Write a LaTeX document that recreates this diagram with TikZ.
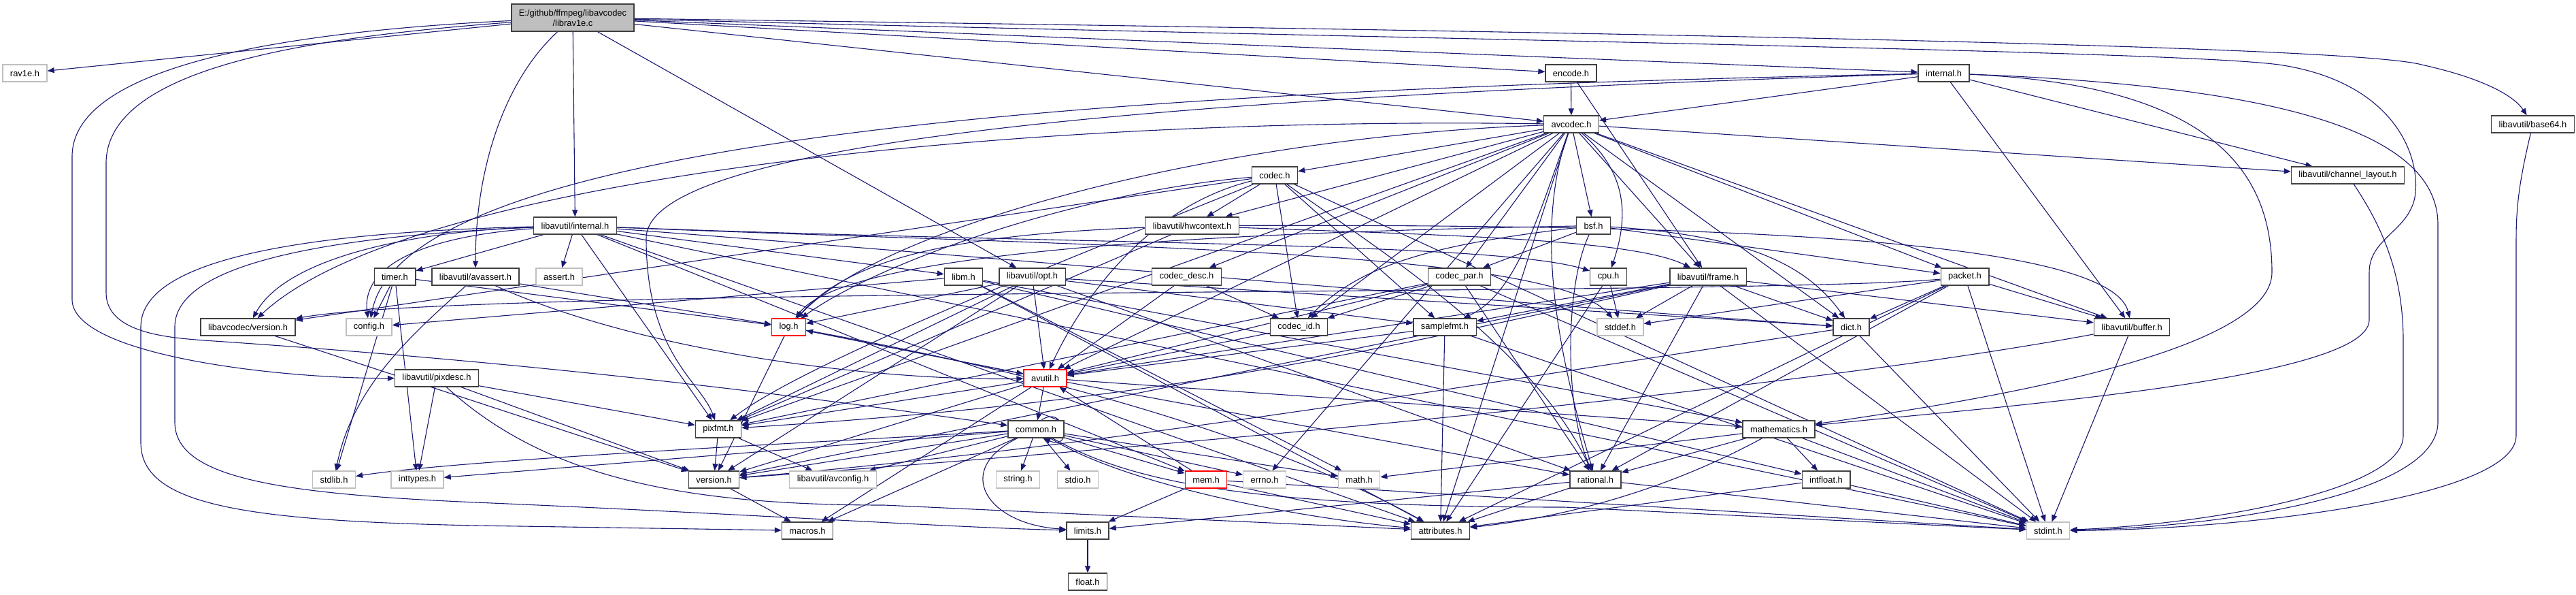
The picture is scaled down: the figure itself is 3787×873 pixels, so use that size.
\documentclass[tikz,border=0pt]{standalone}
\usepackage{fontspec}
\setmainfont{Liberation Sans}
\usetikzlibrary{arrows.meta}
\pgfdeclarelayer{edgelayer}
\pgfdeclarelayer{nodelayer}
\pgfsetlayers{edgelayer,nodelayer,main}
\definecolor{edgeblue}{HTML}{191970}
\tikzstyle{edge}=[draw=edgeblue, line width=1.1pt, -{Triangle[length=10pt,width=8pt]}]
\tikzstyle{file}=[rectangle, fill=white, draw=black!75, line width=1.3pt, minimum height=25pt, inner xsep=11pt, font=\fontsize{12.9}{15}\selectfont]
\tikzstyle{extfile}=[file, draw=black!25]
\tikzstyle{cutfile}=[file, draw=red]
\tikzstyle{rootfile}=[file, fill=black!25, minimum height=40pt, align=center]
\begin{document}
\begin{tikzpicture}[x=1pt, y=-1pt]
	\useasboundingbox (0,0) rectangle (3787,873);
	\begin{pgfonlayer}{nodelayer}
		\node [style=rootfile] (1) at (842, 26) {E:/github/ffmpeg/libavcodec\\/librav1e.c};
		\node [style=extfile] (2) at (36.5, 107.5) {rav1e.h};
		\node [style=file] (3) at (2309.5, 107.5) {encode.h};
		\node [style=file] (4) at (2857.5, 107.5) {internal.h};
		\node [style=file] (5) at (2310, 182.5) {avcodec.h};
		\node [style=file] (6) at (3723.5, 182.5) {libavutil/base64.h};
		\node [style=file] (7) at (1874, 257.5) {codec.h};
		\node [style=file] (8) at (3451.5, 257.5) {libavutil/channel\_layout.h};
		\node [style=file] (9) at (845.5, 331.5) {libavutil/internal.h};
		\node [style=file] (10) at (1752.5, 331.5) {libavutil/hwcontext.h};
		\node [style=file] (11) at (2342.5, 331.5) {bsf.h};
		\node [style=file] (12) at (580.5, 406.5) {timer.h};
		\node [style=file] (13) at (699, 406.5) {libavutil/avassert.h};
		\node [style=extfile] (14) at (822, 406.5) {assert.h};
		\node [style=file] (15) at (1416.5, 406.5) {libm.h};
		\node [style=file] (16) at (1517.5, 406.5) {libavutil/opt.h};
		\node [style=file] (17) at (1744.5, 406.5) {codec\_desc.h};
		\node [style=file] (18) at (2145.5, 406.5) {codec\_par.h};
		\node [style=file] (19) at (2364.5, 406.5) {cpu.h};
		\node [style=file] (20) at (2511, 406.5) {libavutil/frame.h};
		\node [style=file] (21) at (2888.5, 406.5) {packet.h};
		\node [style=file] (22) at (364.5, 480.5) {libavcodec/version.h};
		\node [style=extfile] (23) at (542.5, 480.5) {config.h};
		\node [style=cutfile] (24) at (1159.5, 480.5) {log.h};
		\node [style=file] (25) at (1909.5, 480.5) {codec\_id.h};
		\node [style=file] (26) at (2124, 480.5) {samplefmt.h};
		\node [style=extfile] (27) at (2382, 480.5) {stddef.h};
		\node [style=file] (28) at (2721.5, 480.5) {dict.h};
		\node [style=file] (29) at (3134, 480.5) {libavutil/buffer.h};
		\node [style=file] (30) at (642, 555.5) {libavutil/pixdesc.h};
		\node [style=cutfile] (31) at (1536.5, 555.5) {avutil.h};
		\node [style=file] (32) at (1056, 630.5) {pixfmt.h};
		\node [style=file] (33) at (1523, 630.5) {common.h};
		\node [style=file] (34) at (2615, 630.5) {mathematics.h};
		\node [style=extfile] (35) at (491, 704.5) {stdlib.h};
		\node [style=extfile] (36) at (613.5, 704.5) {inttypes.h};
		\node [style=file] (37) at (1049.5, 704.5) {version.h};
		\node [style=extfile] (38) at (1224.5, 704.5) {libavutil/avconfig.h};
		\node [style=extfile] (39) at (1496.5, 704.5) {string.h};
		\node [style=extfile] (40) at (1584.5, 704.5) {stdio.h};
		\node [style=cutfile] (41) at (1773, 704.5) {mem.h};
		\node [style=extfile] (42) at (1859, 704.5) {errno.h};
		\node [style=extfile] (43) at (1998, 704.5) {math.h};
		\node [style=file] (44) at (2345.5, 704.5) {rational.h};
		\node [style=file] (45) at (2684.5, 704.5) {intfloat.h};
		\node [style=file] (46) at (1187, 779.5) {macros.h};
		\node [style=file] (47) at (1599, 779.5) {limits.h};
		\node [style=file] (48) at (2117.5, 779.5) {attributes.h};
		\node [style=extfile] (49) at (3011, 779.5) {stdint.h};
		\node [style=file] (50) at (1599, 854.5) {float.h};
	\end{pgfonlayer}
	\begin{pgfonlayer}{edgelayer}
		% librav1e.c
		\draw [style=edge] (1) to (2);
		\draw [style=edge] (1) to (9);
		\draw [style=edge] (1) .. controls (740,120) and (699,250) .. (13);
		\draw [style=edge] (1) to (16);
		\draw [style=edge] (1) to (3);
		\draw [style=edge] (1) to (5);
		\draw [style=edge] (1) to (4);
		\draw [style=edge] (1) .. controls (2200,45) and (3450,65) .. (3560,95) .. controls (3650,115) and (3695,140) .. (6);
		\draw [style=edge] (1) .. controls (2200,60) and (3200,75) .. (3350,95) .. controls (3520,120) and (3560,230) .. (3550,290) .. controls (3540,340) and (3483,350) .. (3483,400) -- (3483,470) .. controls (3483,560) and (2900,600) .. (34);
		\draw [style=edge] (1) .. controls (450,45) and (106,90) .. (106,230) -- (106,440) .. controls (106,520) and (400,556) .. (30);
		\draw [style=edge] (1) .. controls (450,55) and (156,100) .. (156,240) -- (156,430) .. controls (156,490) and (250,496) .. (300,500) .. controls (900,540) and (1300,600) .. (33);
		% encode.h, internal.h
		\draw [style=edge] (3) to (5);
		\draw [style=edge] (3) to (20);
		\draw [style=edge] (4) to (5);
		\draw [style=edge] (4) to (8);
		\draw [style=edge] (4) to (29);
		\draw [style=edge] (4) .. controls (3250,125) and (3340,250) .. (3340,400) .. controls (3340,520) and (2900,590) .. (34);
		\draw [style=edge] (4) .. controls (3300,125) and (3584,180) .. (3584,330) -- (3584,620) .. controls (3584,730) and (3250,775) .. (49);
		\draw [style=edge] (4) .. controls (1800,130) and (600,180) .. (23);
		\draw [style=edge] (4) .. controls (1800,140) and (950,200) .. (950,350) .. controls (950,520) and (1030,560) .. (32);
		\draw [style=edge] (6) .. controls (3705,260) and (3699,300) .. (3699,350) -- (3699,640) .. controls (3699,730) and (3300,778) .. (49);
		\draw [style=edge] (8) .. controls (3500,330) and (3533,400) .. (3533,500) -- (3533,640) .. controls (3533,720) and (3250,770) .. (49);
		% avcodec.h
		\draw [style=edge] (5) to (42);
		\draw [style=edge] (5) .. controls (2260,320) and (2230,430) .. (26);
		\draw [style=edge] (5) to (48);
		\draw [style=edge] (5) to (31);
		\draw [style=edge] (5) to (29);
		\draw [style=edge] (5) .. controls (2400,260) and (2390,330) .. (19);
		\draw [style=edge] (5) to (8);
		\draw [style=edge] (5) to (28);
		\draw [style=edge] (5) to (20);
		\draw [style=edge] (5) to (10);
		\draw [style=edge] (5) .. controls (1800,200) and (1300,330) .. (24);
		\draw [style=edge] (5) to (32);
		\draw [style=edge] (5) .. controls (2250,350) and (2300,550) .. (44);
		\draw [style=edge] (5) to (11);
		\draw [style=edge] (5) to (7);
		\draw [style=edge] (5) to (17);
		\draw [style=edge] (5) to (18);
		\draw [style=edge] (5) to (25);
		\draw [style=edge] (5) to (21);
		\draw [style=edge] (5) .. controls (1500,170) and (600,260) .. (22);
		% codec.h
		\draw [style=edge] (7) to (49);
		\draw [style=edge] (7) .. controls (1700,300) and (1600,420) .. (31);
		\draw [style=edge] (7) to (10);
		\draw [style=edge] (7) .. controls (1600,280) and (1300,380) .. (24);
		\draw [style=edge] (7) .. controls (1700,330) and (1200,520) .. (32);
		\draw [style=edge] (7) .. controls (2000,350) and (2250,500) .. (44);
		\draw [style=edge] (7) to (26);
		\draw [style=edge] (7) to (25);
		\draw [style=edge] (7) to (22);
		% libavutil/hwcontext.h, bsf.h
		\draw [style=edge] (10) .. controls (2400,330) and (3100,340) .. (29);
		\draw [style=edge] (10) .. controls (2100,345) and (2400,350) .. (20);
		\draw [style=edge] (10) .. controls (1400,345) and (1250,380) .. (24);
		\draw [style=edge] (10) to (32);
		\draw [style=edge] (11) .. controls (2550,345) and (2650,380) .. (28);
		\draw [style=edge] (11) .. controls (1900,340) and (1250,360) .. (24);
		\draw [style=edge] (11) .. controls (2300,420) and (2300,600) .. (44);
		\draw [style=edge] (11) .. controls (2100,360) and (2000,390) .. (25);
		\draw [style=edge] (11) to (18);
		\draw [style=edge] (11) to (21);
		% libavutil/internal.h
		\draw [style=edge] (9) to (14);
		\draw [style=edge] (9) to (12);
		\draw [style=edge] (9) .. controls (650,345) and (530,380) .. (23);
		\draw [style=edge] (9) .. controls (600,340) and (420,380) .. (22);
		\draw [style=edge] (9) to (15);
		\draw [style=edge] (9) .. controls (1600,362) and (2280,365) .. (27);
		\draw [style=edge] (9) .. controls (1600,360) and (2200,355) .. (19);
		\draw [style=edge] (9) .. controls (1500,380) and (2200,445) .. (28);
		\draw [style=edge] (9) to (48);
		\draw [style=edge] (9) to (41);
		\draw [style=edge] (9) to (32);
		\draw [style=edge] (9) to (49);
		\draw [style=edge] (9) .. controls (500,340) and (207,370) .. (207,480) -- (207,650) .. controls (207,740) and (350,765) .. (700,772) -- (46);
		\draw [style=edge] (9) .. controls (520,345) and (257,380) .. (257,480) -- (257,620) .. controls (257,700) and (400,725) .. (700,738) .. controls (1100,755) and (1400,775) .. (47);
		% timer.h, libavutil/avassert.h, libm.h, libavutil/opt.h
		\draw [style=edge] (12) to (23);
		\draw [style=edge] (12) to (35);
		\draw [style=edge] (12) to (36);
		\draw [style=edge] (12) to (24);
		\draw [style=edge] (13) .. controls (620,480) and (520,560) .. (35);
		\draw [style=edge] (13) .. controls (950,520) and (1300,560) .. (31);
		\draw [style=edge] (13) to (24);
		\draw [style=edge] (15) to (43);
		\draw [style=edge] (15) to (23);
		\draw [style=edge] (15) to (48);
		\draw [style=edge] (15) to (45);
		\draw [style=edge] (15) to (34);
		\draw [style=edge] (16) to (44);
		\draw [style=edge] (16) to (31);
		\draw [style=edge] (16) to (28);
		\draw [style=edge] (16) to (24);
		\draw [style=edge] (16) to (32);
		\draw [style=edge] (16) to (26);
		\draw [style=edge] (16) to (37);
		% codec_desc.h, codec_par.h, cpu.h
		\draw [style=edge] (17) to (31);
		\draw [style=edge] (17) to (25);
		\draw [style=edge] (18) to (49);
		\draw [style=edge] (18) to (31);
		\draw [style=edge] (18) to (44);
		\draw [style=edge] (18) to (32);
		\draw [style=edge] (18) to (25);
		\draw [style=edge] (19) to (27);
		\draw [style=edge] (19) to (48);
		% libavutil/frame.h, packet.h
		\draw [style=edge] (20) to (27);
		\draw [style=edge] (20) to (49);
		\draw [style=edge] (20) to (31);
		\draw [style=edge] (20) to (29);
		\draw [style=edge] (20) to (28);
		\draw [style=edge] (20) to (44);
		\draw [style=edge] (20) to (26);
		\draw [style=edge] (20) .. controls (2000,520) and (1700,590) .. (32);
		\draw [style=edge] (20) to (37);
		\draw [style=edge] (21) to (27);
		\draw [style=edge] (21) to (49);
		\draw [style=edge] (21) to (48);
		\draw [style=edge] (21) to (29);
		\draw [style=edge] (21) to (28);
		\draw [style=edge] (21) to (44);
		\draw [style=edge] (21) .. controls (2600,435) and (700,420) .. (22);
		% middle rows
		\draw [style=edge] (22) to (37);
		\draw [style=edge] (24) to (31);
		\draw [style=edge] (24) .. controls (1600,560) and (1900,660) .. (48);
		\draw [style=edge] (24) to (37);
		\draw [style=edge] (25) to (31);
		\draw [style=edge] (26) to (49);
		\draw [style=edge] (26) to (31);
		\draw [style=edge] (26) to (48);
		\draw [style=edge] (28) to (49);
		\draw [style=edge] (28) .. controls (2200,560) and (1600,660) .. (37);
		\draw [style=edge] (29) to (49);
		\draw [style=edge] (29) .. controls (2600,580) and (1600,665) .. (37);
		\draw [style=edge] (30) to (36);
		\draw [style=edge] (30) .. controls (800,700) and (1000,742) .. (1300,742) -- (48);
		\draw [style=edge] (30) to (32);
		\draw [style=edge] (30) to (37);
		\draw [style=edge] (31) to (33);
		\draw [style=edge] (31) to (44);
		\draw [style=edge] (31) to (37);
		\draw [style=edge] (31) to (46);
		\draw [style=edge] (31) to (34);
		\draw [style=edge] (31) to (24);
		\draw [style=edge] (31) to (32);
		\draw [style=edge] (32) to (38);
		\draw [style=edge] (32) to (37);
		% common.h
		\draw [style=edge] (33) to (42);
		\draw [style=edge] (33) to (36);
		\draw [style=edge] (33) .. controls (1400,690) and (1450,770) .. (47);
		\draw [style=edge] (33) to (43);
		\draw [style=edge] (33) .. controls (1650,700) and (1800,745) .. (2300,745) -- (49);
		\draw [style=edge] (33) to (40);
		\draw [style=edge] (33) .. controls (1200,650) and (680,675) .. (35);
		\draw [style=edge] (33) to (39);
		\draw [style=edge] (33) .. controls (1650,710) and (1900,760) .. (48);
		\draw [style=edge] (33) to (46);
		\draw [style=edge] (33) to (37);
		\draw [style=edge] (33) to (38);
		\draw [style=edge] (33) to (41);
		\draw [style=edge] (33.60) .. controls +(35,-25) and +(45,20) .. (33.-50);
		% lower rows
		\draw [style=edge] (34) to (49);
		\draw [style=edge] (34) to (43);
		\draw [style=edge] (34) .. controls (2450,720) and (2300,760) .. (48);
		\draw [style=edge] (34) to (44);
		\draw [style=edge] (34) to (45);
		\draw [style=edge] (37) to (46);
		\draw [style=edge] (41) to (47);
		\draw [style=edge] (41) to (49);
		\draw [style=edge] (41) to (48);
		\draw [style=edge] (41) to (31);
		\draw [style=edge] (44) to (49);
		\draw [style=edge] (44) to (47);
		\draw [style=edge] (44) to (48);
		\draw [style=edge] (45) to (49);
		\draw [style=edge] (45) to (48);
		\draw [style=edge] (47) to (50);
	\end{pgfonlayer}
\end{tikzpicture}
\end{document}
